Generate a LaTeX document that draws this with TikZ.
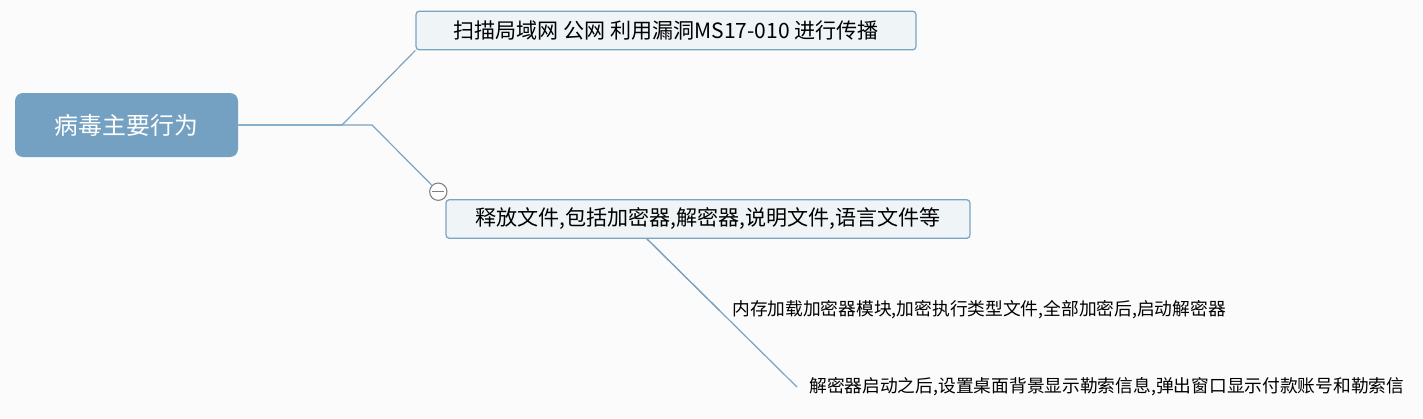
\documentclass[tikz,border=0pt]{standalone}
\usepackage{fontspec}
\setmainfont{Noto Sans CJK SC}
\usepackage{tikz}
\usetikzlibrary{shapes,calc}
\usepackage{xcolor}
\definecolor{rootblue}{RGB}{116,161,193}
\definecolor{linkblue}{RGB}{123,163,194}
\definecolor{boxfill}{RGB}{239,244,247}
\definecolor{canvas}{RGB}{251,251,251}

\tikzset{
  rootbox/.style={rectangle,rounded corners=6pt,fill=rootblue,text=white,
    minimum width=167.25pt,minimum height=48pt,font=\fontsize{17.9pt}{20pt}\selectfont},
  topicbox/.style={rectangle,rounded corners=2.5pt,draw=linkblue,line width=0.9pt,
    fill=boxfill,minimum height=29pt,font=\fontsize{15.8pt}{18pt}\selectfont},
  leaftext/.style={anchor=west,inner xsep=9pt,inner ysep=2pt,font=\fontsize{13.3pt}{16pt}\selectfont},
  link/.style={draw=linkblue,line width=0.9pt},
  foldmark/.style={circle,draw=gray,fill=white,line width=0.8pt,minimum size=13pt,inner sep=0pt}
}

\begin{document}
\begin{tikzpicture}[x=0.75pt,y=-0.75pt]
            % canvas
            \fill[canvas] (0,0) rectangle (1423,418);
            \useasboundingbox (0,0) rectangle (1423,418);

            % central topic
            \node[rootbox] (root) at (126.5,125) {病毒主要行为};

            % main topics
            \node[topicbox,minimum width=375pt] (scan) at (666,30.5) {扫描局域网 公网 利用漏洞MS17-010 进行传播};
            \node[topicbox,minimum width=393pt] (drop) at (708,219) {释放文件,包括加密器,解密器,说明文件,语言文件等};

            % collapse mark
            \node[foldmark] (fold) at (438.3,191.7) {};
            \draw[gray,line width=0.8pt] ($(fold.center)+(-6,0)$) -- ($(fold.center)+(6,0)$);

            % sub topics
            \node[leaftext] (load) at (720,310) {内存加载加密器模块,加密执行类型文件,全部加密后,启动解密器};
            \node[leaftext] (ransom) at (797,387) {解密器启动之后,设置桌面背景显示勒索信息,弹出窗口显示付款账号和勒索信};

            % connectors
            \draw[link] (root.east) -- (342,125) -- (scan.south west);
            \draw[link] (root.east) -- (372,125) -- (fold);
            \coordinate (dropfoot) at ($(drop.south)+(-61,0)$);
            \draw[link] (dropfoot) -- ($(dropfoot)!(load.west)!(ransom.west)$);
            \draw[link] (dropfoot) -- (ransom.west);
        \end{tikzpicture}
\end{document}
